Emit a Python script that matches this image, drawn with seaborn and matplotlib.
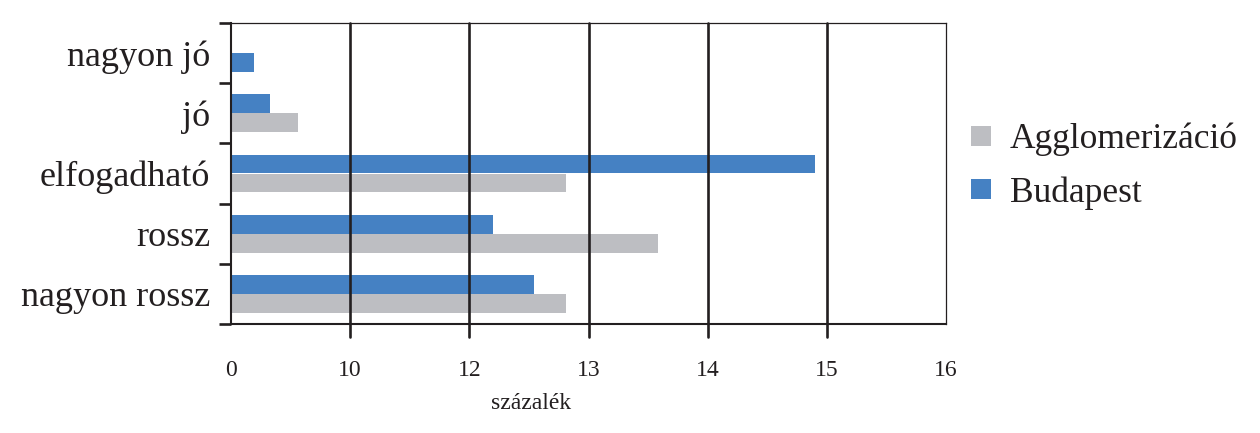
import matplotlib
matplotlib.use("Agg")
import matplotlib.pyplot as plt
from matplotlib.lines import Line2D
import seaborn as sns
import pandas as pd
import numpy as np

# ---- data (values in axis units: tick positions 0..6 carry labels below) ----
categories = ["nagyon jó", "jó", "elfogadható", "rossz", "nagyon rossz"]
budapest = [0.19, 0.33, 4.90, 2.20, 2.54]
agglomeracio = [np.nan, 0.56, 2.81, 3.58, 2.81]
tick_labels = ["0", "10", "12", "13", "14", "15", "16"]
series_names = ["Budapest", "Agglomerizáció"]
legend_order = ["Agglomerizáció", "Budapest"]
xlabel = "százalék"

colors = {"Budapest": "#4581c3", "Agglomerizáció": "#bdbec2"}
ink = "#231f20"

rows = []
for c, b, a in zip(categories, budapest, agglomeracio):
    rows.append({"cat": c, "series": "Budapest", "val": b})
    rows.append({"cat": c, "series": "Agglomerizáció", "val": a})
df = pd.DataFrame(rows).dropna()

sns.set_theme(style="white")
plt.rcParams["font.family"] = ["Liberation Serif", "DejaVu Serif"]
plt.rcParams["text.color"] = ink

fig = plt.figure(figsize=(12.6, 4.33), dpi=100)
ax = fig.add_axes([231 / 1260, 1 - 324 / 433, 715 / 1260, 301 / 433])

sns.barplot(data=df, y="cat", x="val", hue="series", order=categories,
            hue_order=series_names, palette=colors, orient="h", saturation=1,
            width=0.63, linewidth=0, legend=False, ax=ax)

# single bar in first row sits in the lower slot of its group
bud_rgb = matplotlib.colors.to_rgba(colors["Budapest"])
for p in ax.patches:
    cy = p.get_y() + p.get_height() / 2
    if -0.5 < cy < 0 and np.allclose(p.get_facecolor(), bud_rgb, atol=0.02):
        p.set_y(p.get_y() + p.get_height())

n = len(tick_labels)
ax.set_xlim(0, n - 1)
ax.set_ylim(len(categories) - 0.5, -0.5)
ax.set_xticks(range(n))
ax.set_xticklabels(tick_labels, fontsize=17, color=ink)
ax.tick_params(axis="x", which="major", bottom=True, length=0, pad=26)

# vertical rules at the inner ticks, running a little below the frame
for xv in range(1, n - 1):
    ax.axvline(xv, ymin=-13 / 301, ymax=1, clip_on=False, color=ink,
               linewidth=1.9, zorder=3)

ax.set_yticks(range(len(categories)))
ax.set_yticklabels(categories, fontsize=26, color=ink)
ax.set_yticks(np.arange(-0.5, len(categories)), minor=True)
ax.grid(False)
ax.tick_params(axis="y", which="major", left=False, length=0, pad=15)
ax.tick_params(axis="y", which="minor", left=True, length=8.6, width=1.9,
               color=ink, direction="out")

ax.set_xlabel(xlabel, fontsize=17, color=ink)
ax.xaxis.set_label_coords(0.42, -0.23)
ax.set_ylabel("")

for side in ["left", "bottom"]:
    ax.spines[side].set_color(ink)
    ax.spines[side].set_linewidth(1.5)
for side in ["top", "right"]:
    ax.spines[side].set_color(ink)
    ax.spines[side].set_linewidth(0.9)
for s in ax.spines.values():
    s.set_visible(True)

handles = [Line2D([], [], marker="s", linestyle="", markersize=15,
                  markerfacecolor=colors[k], markeredgewidth=0) for k in legend_order]
fig.legend(handles, legend_order, loc="upper left",
           bbox_to_anchor=(946 / 1260, 1 - 105 / 433), frameon=False,
           fontsize=25.5, handletextpad=0.3, labelspacing=0.56, handlelength=1.0,
           borderpad=0)

fig.savefig("out.png", dpi=100)
